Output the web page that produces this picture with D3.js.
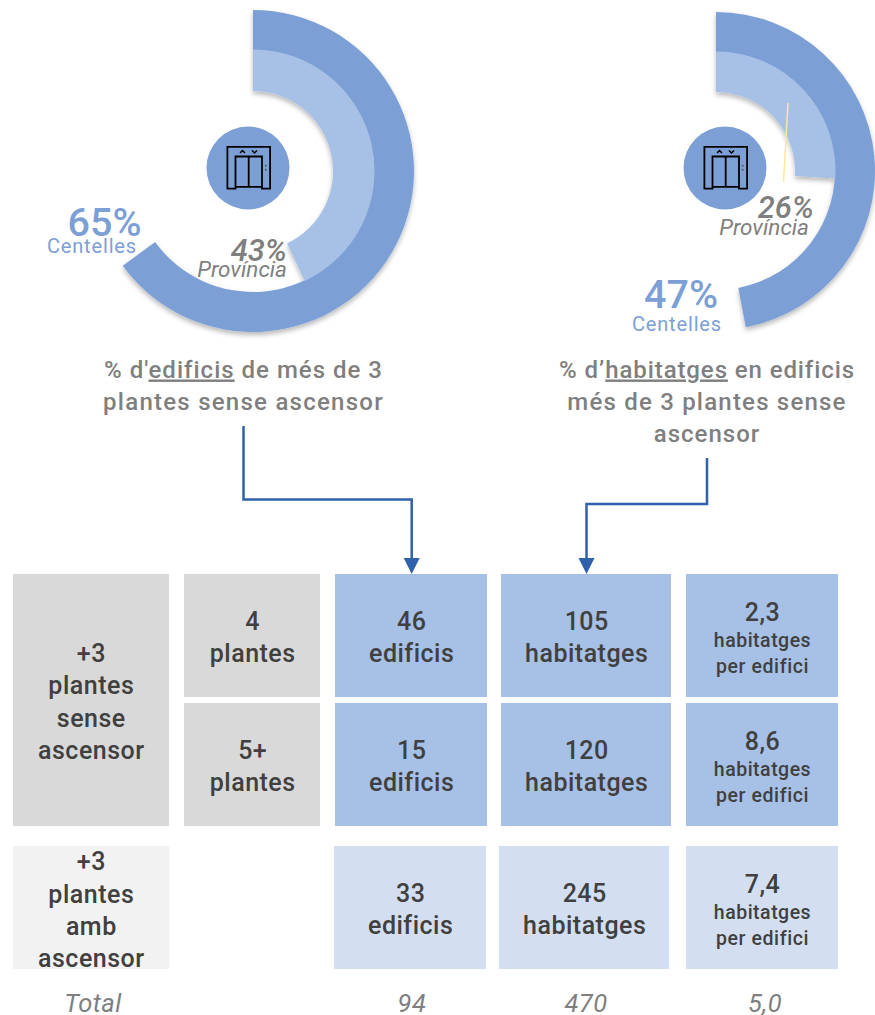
<!DOCTYPE html>
<html>
<head>
<meta charset="utf-8">
<script src="https://cdn.jsdelivr.net/npm/d3@7"></script>
<style>
    html, body { margin: 0; padding: 0; background: white; }
    svg { display: block; }
    text { font-family: Roboto, sans-serif; }
    tspan.under { text-decoration: underline; text-decoration-thickness: 1px; text-underline-offset: 3px; }
</style>
</head>
<body>
<svg id="chart" width="875" height="1015"></svg>
<script>
// donuts
const centelles_values = [65, 47];
const provincia_values = [43, 26];
const centelles_label = "Centelles";
const provincia_label = "Província";

// table columns, one value per row
const floors_labels = [["4", "plantes"], ["5+", "plantes"]];
const group_labels = [["+3", "plantes", "sense", "ascensor"], ["+3", "plantes", "amb", "ascensor"]];
const edificis_values = [46, 15, 33];
const habitatges_values = [105, 120, 245];
const ratio_values = ["2,3", "8,6", "7,4"];
const total_labels = ["Total", "94", "470", "5,0"];

const BLUE = "#7ca0d6";
const BLUE_MID = "#a7c0e5";
const BLUE_LIGHT = "#d3dff1";
const GREY = "#d9d9d9";
const GREY_LIGHT = "#f2f2f2";
const TEXT_DARK = "#404040";
const TEXT_GREY = "#7f7f7f";
const ARROW = "#2f62aa";
const LINE_HEIGHT = 32.3;

var svg = d3.select("#chart");

var defs = svg.append("defs");
var shadow = defs.append("filter").attr("id", "shadow")
    .attr("x", "-10%").attr("y", "-10%").attr("width", "120%").attr("height", "120%");
shadow.append("feDropShadow")
    .attr("dx", 0).attr("dy", 3).attr("stdDeviation", 2.5)
    .attr("flood-color", "#000").attr("flood-opacity", 0.28);

var angle = d3.scaleLinear().domain([0, 100]).range([0, 2 * Math.PI]);

function draw_ring(g, value, inner, outer, color) {
    var arc = d3.arc()
        .innerRadius(inner)
        .outerRadius(outer)
        .startAngle(angle(0))
        .endAngle(angle(value));
    g.append("path")
        .attr("d", arc())
        .attr("fill", color);
}

function draw_elevator(x, y) {
    var g = svg.append("g")
        .attr("transform", "translate(" + x + "," + y + ")")
        .attr("fill", "none")
        .attr("stroke", "#000")
        .attr("stroke-width", 1.8);
    g.append("path").attr("d", "M0.9,42.6 V0.9 H43.6 V42.6 H35.5 V10.5 H9 V42.6 Z");
    g.append("path").attr("d", "M9,40.8 H35.5 M22.2,10.5 V40.8");
    g.append("path").attr("d", "M13.5,7 L16,4.5 L18.5,7 M25.5,4.5 L28,7 L30.5,4.5").attr("stroke-width", 1.5);
    g.append("path").attr("d", "M39.3,19 V20.5 M39.3,23 V24.5").attr("stroke", "#333").attr("stroke-width", 1.2);
}

function add_text(x, y, str, size, color, opts) {
    opts = opts || {};
    return svg.append("text")
        .attr("x", x)
        .attr("y", y)
        .attr("text-anchor", opts.anchor || "middle")
        .attr("font-size", size)
        .attr("font-style", opts.italic ? "italic" : "normal")
        .attr("font-weight", opts.weight || 400)
        .attr("letter-spacing", opts.spacing || 0)
        .attr("fill", color)
        .text(str);
}

// layout of the two donuts
var donuts = [
    { cx: 253, cy: 171, radii: [161, 121, 80], icon_cx: 248, icon_cy: 168,
      c_big: [141.5, 235.5], c_small: [137, 253], p_big: [287, 260.5], p_small: [287, 276.5] },
    { cx: 716, cy: 171, radii: [159, 119, 79], icon_cx: 725, icon_cy: 168,
      c_big: [718, 308], c_small: [722, 331], p_big: [814, 217.5], p_small: [809, 235] }
];

donuts.forEach(function (d, i) {
    var g = svg.append("g")
        .attr("transform", "translate(" + d.cx + "," + d.cy + ")")
        .attr("filter", "url(#shadow)");
    draw_ring(g, centelles_values[i], d.radii[1], d.radii[0], BLUE);
    draw_ring(g, provincia_values[i], d.radii[2], d.radii[1] + 0.5, BLUE_MID);

    svg.append("circle")
        .attr("cx", d.icon_cx).attr("cy", d.icon_cy).attr("r", 41.5)
        .attr("fill", BLUE);
    draw_elevator(d.icon_cx - 21.5, d.icon_cy - 22);

    add_text(d.c_big[0], d.c_big[1], centelles_values[i] + "%", 39.5, BLUE, { anchor: "end", weight: 500 });
    add_text(d.c_small[0], d.c_small[1], centelles_label, 20, BLUE, { anchor: "end", spacing: 0.85 });
    add_text(d.p_big[0], d.p_big[1], provincia_values[i] + "%", 31, TEXT_GREY, { anchor: "end", italic: true, weight: 500 });
    add_text(d.p_small[0], d.p_small[1], provincia_label, 22.5, TEXT_GREY, { anchor: "end", italic: true });
});

// stray yellow line on the right donut
svg.append("line")
    .attr("x1", 788).attr("y1", 103).attr("x2", 783.5).attr("y2", 182)
    .attr("stroke", "#ffe699").attr("stroke-width", 1.5);

// subtitles, with one underlined word
function add_subtitle(x, y, spacing, parts) {
    var t = add_text(x, y, null, 24, TEXT_GREY, { weight: 500, spacing: spacing });
    parts.forEach(function (p) {
        t.append("tspan")
            .attr("class", p[1] ? "under" : null)
            .text(p[0]);
    });
}

add_subtitle(243.5, 377.5, 1.0, [["% d'", false], ["edificis", true], [" de més de 3", false]]);
add_subtitle(243.5, 410, 1.25, [["plantes sense ascensor", false]]);
add_subtitle(707, 377.5, 0.9, [["% d’", false], ["habitatges", true], [" en edificis", false]]);
add_subtitle(707, 410, 1.2, [["més de 3 plantes sense", false]]);
add_subtitle(707, 441.7, 1.0, [["ascensor", false]]);

// connectors
var connector = d3.line();
function draw_connector(points) {
    svg.append("path")
        .attr("d", connector(points))
        .attr("fill", "none")
        .attr("stroke", ARROW)
        .attr("stroke-width", 2.5);
    var end = points[points.length - 1];
    svg.append("path")
        .attr("d", connector([[end[0] - 8, end[1]], [end[0] + 8, end[1]], [end[0], end[1] + 16]]) + "Z")
        .attr("fill", ARROW);
}
draw_connector([[243.5, 426], [243.5, 499.5], [411.7, 499.5], [411.7, 558]]);
draw_connector([[707, 458], [707, 504], [586.5, 504], [586.5, 558]]);

// table
var col_x = { group: 13, floors: 184, edificis: 335, habitatges: 501, ratio: 686 };
var col_w = { group: 156, floors: 136, edificis: 152, habitatges: 170, ratio: 152 };
var row_y = [574, 703, 846];
var row_h = 123;
var row_shift = { edificis: [0, 0, -1], habitatges: [0, 0, -2], ratio: [0, 0, 0] };

function draw_cell(x, y, w, h, color) {
    svg.append("rect")
        .attr("x", x).attr("y", y).attr("width", w).attr("height", h)
        .attr("fill", color);
}

function add_lines(cx, first_baseline, lines, size) {
    lines.forEach(function (line, i) {
        add_text(cx, first_baseline + i * LINE_HEIGHT, line, size, TEXT_DARK, { weight: 500, spacing: 0.5 });
    });
}

// first column, spans the two upper rows
draw_cell(col_x.group, row_y[0], col_w.group, row_y[1] + row_h - row_y[0], GREY);
add_lines(91.3, 662, group_labels[0], 25);
draw_cell(col_x.group, row_y[2], col_w.group, row_h, GREY_LIGHT);
add_lines(91.3, 870.3, group_labels[1], 25);

floors_labels.forEach(function (lines, r) {
    draw_cell(col_x.floors, row_y[r], col_w.floors, row_h, GREY);
    add_lines(col_x.floors + col_w.floors / 2 + 0.7, row_y[r] + 55.8, lines, 25);
});

function draw_count_column(key, values, unit) {
    values.forEach(function (v, r) {
        var x = col_x[key] + row_shift[key][r];
        draw_cell(x, row_y[r], col_w[key], row_h, r < 2 ? BLUE_MID : BLUE_LIGHT);
        add_lines(x + col_w[key] / 2 + 0.7, row_y[r] + 55.8, [String(v), unit], 25);
    });
}
draw_count_column("edificis", edificis_values, "edificis");
draw_count_column("habitatges", habitatges_values, "habitatges");

ratio_values.forEach(function (v, r) {
    var x = col_x.ratio;
    var cx = x + col_w.ratio / 2 + 0.5;
    var top = row_y[r];
    draw_cell(x, top, col_w.ratio, row_h, r < 2 ? BLUE_MID : BLUE_LIGHT);
    add_text(cx, top + 47, v, 25, TEXT_DARK, { weight: 500, spacing: 0.5 });
    add_text(cx, top + 73, "habitatges", 19.5, TEXT_DARK, { weight: 500, spacing: 0.5 });
    add_text(cx, top + 99, "per edifici", 19.5, TEXT_DARK, { weight: 500, spacing: 0.6 });
});

// totals row
var total_x = [93, 412, 586, 765];
total_labels.forEach(function (label, i) {
    add_text(total_x[i], 1011.5, label, 25.5, TEXT_GREY, { italic: true, spacing: 0.5 });
});
</script>
</body>
</html>
